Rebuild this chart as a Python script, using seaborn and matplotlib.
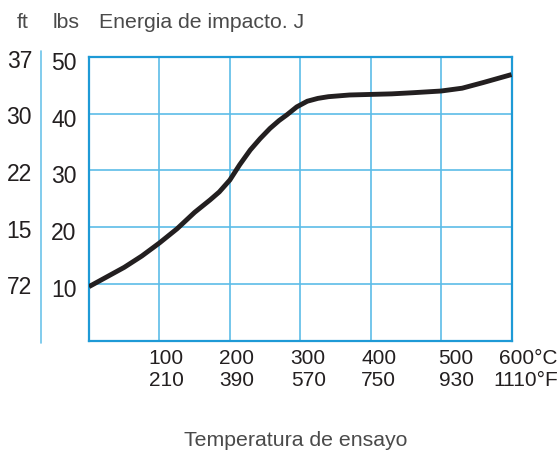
import matplotlib
matplotlib.use("Agg")
import matplotlib.pyplot as plt
import matplotlib.transforms as mtransforms
import seaborn as sns
import pandas as pd

# ---- data ----
temp_c = [0, 25, 50, 75, 100, 125, 150, 172, 185, 200, 214, 229, 243, 257,
          270, 281, 295, 310, 325, 340, 370, 400, 430, 460, 500, 530, 560, 600]
energy_j = [9.5, 11.2, 12.9, 14.9, 17.2, 19.7, 22.6, 24.8, 26.2, 28.3, 31.0,
            33.6, 35.6, 37.4, 38.8, 39.8, 41.2, 42.2, 42.7, 43.0, 43.3, 43.4,
            43.5, 43.7, 44.0, 44.5, 45.5, 46.9]

x_ticks = [100, 200, 300, 400, 500, 600]
x_labels_c = ["100", "200", "300", "400", "500", "600°C"]
x_labels_f = ["210", "390", "570", "750", "930", "1110°F"]

y_ticks = [10, 20, 30, 40, 50]
y_labels_lbs = ["10", "20", "30", "40", "50"]
y_labels_ft = ["72", "15", "22", "30", "37"]

# ---- style ----
sns.set_style("white")
plt.rcParams["font.family"] = ["Liberation Sans", "DejaVu Sans"]

num_color = "#231f20"
txt_color = "#4a4a4a"
frame_color = "#1e9ad6"
grid_color = "#5cbce8"
num_size = 16.5
xnum_size = 15
head_size = 15.3

fig = plt.figure(figsize=(5.6, 4.5), dpi=100)
ax = fig.add_axes([89 / 560, 1 - 340.5 / 450, (511.5 - 89) / 560, (340.5 - 57) / 450])

df = pd.DataFrame({"T": temp_c, "E": energy_j})
sns.lineplot(data=df, x="T", y="E", ax=ax, color="#231f20", linewidth=3.5,
             solid_capstyle="butt", solid_joinstyle="round", zorder=5)

ax.set_xlim(0, 600)
ax.set_ylim(0, 50)
ax.set_xlabel("")
ax.set_ylabel("")

# grid lines
for t in x_ticks[:-1]:
    ax.axvline(t, color=grid_color, linewidth=1.2, zorder=1)
for v in y_ticks[:-1]:
    ax.axhline(v, color=grid_color, linewidth=1.2, zorder=1)

for s in ax.spines.values():
    s.set_visible(True)
    s.set_color(frame_color)
    s.set_linewidth(1.6)

# y tick labels (lbs column)
ax.set_yticks(y_ticks)
ax.set_yticklabels(y_labels_lbs, fontsize=num_size, color=num_color)
ax.tick_params(axis="y", length=0, pad=9)
ax.set_xticks([])
shift = mtransforms.ScaledTranslation(0, -4 / 100, fig.dpi_scale_trans)
for lab in ax.get_yticklabels():
    lab.set_transform(lab.get_transform() + shift)

# ft column
trans_ft = mtransforms.blended_transform_factory(fig.transFigure, ax.transData) + shift
for v, lab in zip(y_ticks, y_labels_ft):
    ax.text(32 / 560, v, lab, transform=trans_ft, ha="right", va="center",
            fontsize=num_size, color=num_color)

# separator line
fig.add_artist(plt.Line2D([41 / 560, 41 / 560], [1 - 343 / 450, 1 - 51 / 450],
                          transform=fig.transFigure, color="#6cc4ea", linewidth=1.2))

# x labels (two rows)
trans_x = mtransforms.blended_transform_factory(ax.transData, fig.transFigure)
offsets = [7, 7, 8, 8, 15]
for t, lc, lf, dx in zip(x_ticks[:-1], x_labels_c[:-1], x_labels_f[:-1], offsets):
    o = mtransforms.offset_copy(trans_x, fig=fig, x=dx, y=0, units="dots")
    ax.text(t, 1 - 358 / 450, lc, transform=o, ha="center", va="center",
            fontsize=xnum_size, color=num_color)
    ax.text(t, 1 - 381 / 450, lf, transform=o, ha="center", va="center",
            fontsize=xnum_size, color=num_color)
fig.text(558 / 560, 1 - 358 / 450, x_labels_c[-1], ha="right", va="center",
         fontsize=xnum_size, color=num_color)
fig.text(558 / 560, 1 - 381 / 450, x_labels_f[-1], ha="right", va="center",
         fontsize=xnum_size, color=num_color)

# header texts
fig.text(23 / 560, 1 - 23 / 450, "ft", ha="center", va="center", fontsize=head_size, color=txt_color)
fig.text(66 / 560, 1 - 23 / 450, "lbs", ha="center", va="center", fontsize=head_size, color=txt_color)
fig.text(99 / 560, 1 - 23 / 450, "Energia de impacto. J", ha="left", va="center",
         fontsize=head_size, color=txt_color)

# x axis title
fig.text(296 / 560, 1 - 440 / 450, "Temperatura de ensayo", ha="center", va="center",
         fontsize=head_size, color=txt_color)

fig.savefig("out.png", dpi=100)
